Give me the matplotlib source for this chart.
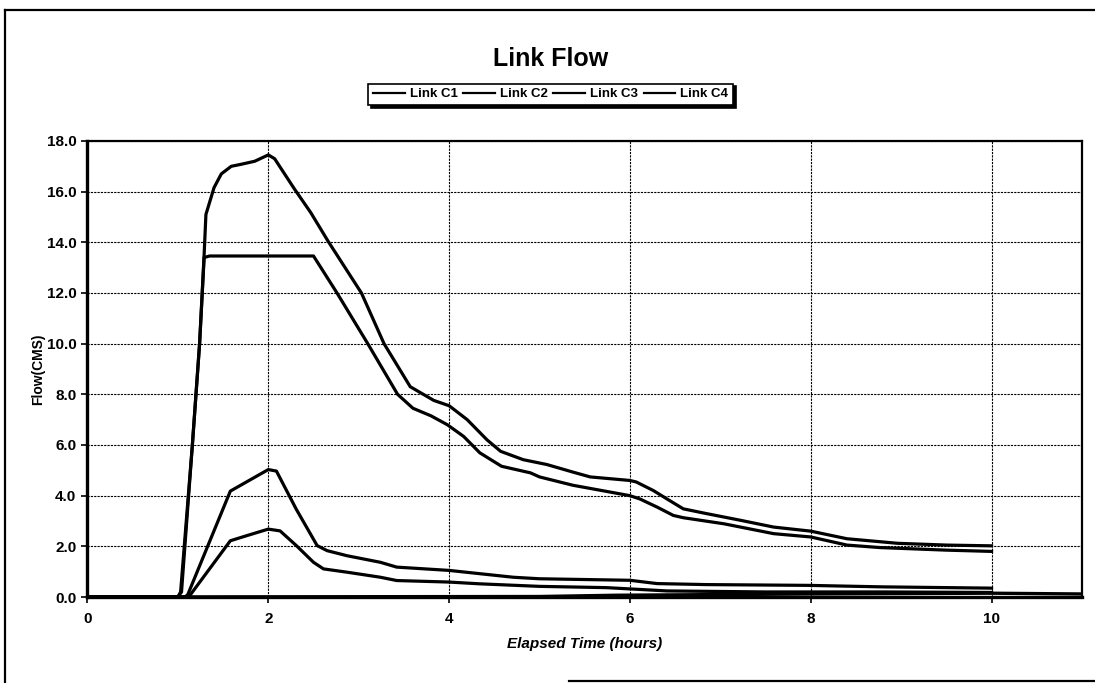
import matplotlib
matplotlib.use("Agg")
import matplotlib.pyplot as plt
from matplotlib.lines import Line2D

# values (time in hours, flow in CMS)
c1_t = [0, 1.0, 1.03, 1.16, 1.24, 1.29, 1.31, 1.40, 1.48, 1.59, 1.70, 1.85, 2.0, 2.07,
        2.29, 2.47, 2.66, 3.03, 3.28, 3.57, 3.83, 4.0, 4.2, 4.42, 4.57, 4.82, 5.08, 5.37,
        5.56, 6.0, 6.07, 6.26, 6.41, 6.59, 6.85, 7.22, 7.59, 8.0, 8.4, 8.96, 9.5, 10.0]
c1_q = [0, 0, 0.2, 6.0, 10.0, 13.5, 15.1, 16.16, 16.7, 17.0, 17.08, 17.2, 17.45, 17.3,
        16.1, 15.17, 14.05, 12.0, 10.0, 8.3, 7.76, 7.55, 7.0, 6.2, 5.75, 5.42, 5.23, 4.93,
        4.74, 4.6, 4.54, 4.2, 3.87, 3.48, 3.29, 3.03, 2.76, 2.6, 2.3, 2.12, 2.05, 2.02]

c2_t = [0, 1.0, 1.04, 1.16, 1.24, 1.29, 1.35, 2.5, 2.76, 3.1, 3.43, 3.6, 3.8, 3.98, 4.16,
        4.34, 4.58, 4.9, 5.0, 5.37, 6.0, 6.11, 6.3, 6.48, 6.59, 7.04, 7.59, 8.0, 8.4, 8.77,
        9.5, 10.0]
c2_q = [0, 0, 0.2, 6.0, 10.0, 13.4, 13.46, 13.46, 12.0, 10.0, 8.0, 7.45, 7.15, 6.8, 6.34,
        5.69, 5.16, 4.9, 4.74, 4.41, 4.0, 3.87, 3.55, 3.22, 3.13, 2.89, 2.5, 2.37, 2.05, 1.95,
        1.85, 1.8]

c3_t = [0, 1.08, 1.11, 1.58, 2.0, 2.09, 2.31, 2.54, 2.65, 2.87, 3.24, 3.42, 4.0, 4.34,
        4.71, 5.0, 6.0, 6.3, 6.85, 7.96, 8.8, 10.0]
c3_q = [0, 0, 0.1, 4.18, 5.03, 4.97, 3.46, 2.03, 1.83, 1.63, 1.37, 1.18, 1.05, 0.92,
        0.78, 0.72, 0.66, 0.53, 0.49, 0.46, 0.4, 0.35]

c4_t = [0, 1.1, 1.13, 1.58, 1.76, 2.0, 2.13, 2.31, 2.5, 2.61, 2.87, 3.24, 3.42, 4.0, 4.34,
        5.0, 5.74, 6.41, 7.5, 8.8, 10.0]
c4_q = [0, 0, 0.05, 2.22, 2.42, 2.68, 2.61, 2.03, 1.37, 1.11, 0.98, 0.78, 0.65, 0.59, 0.52,
        0.42, 0.37, 0.24, 0.2, 0.2, 0.18]

base_t = [0, 5.0, 5.85, 8.0, 10.0, 11.0]
base_q = [0, 0.02, 0.07, 0.12, 0.15, 0.12]

series = [("Link C1", c1_t, c1_q), ("Link C2", c2_t, c2_q),
          ("Link C3", c3_t, c3_q), ("Link C4", c4_t, c4_q)]

y_ticks = [0, 2, 4, 6, 8, 10, 12, 14, 16, 18]
x_ticks = [0, 2, 4, 6, 8, 10]

plt.rcParams["font.family"] = ["Liberation Sans", "DejaVu Sans"]

fig = plt.figure(figsize=(10.95, 6.83), dpi=100)
ax = fig.add_axes([0.0799, 0.1259, 0.9082, 0.6677])

for name, t, q in series:
    ax.plot(t, q, color="black", lw=2.3, label=name, solid_joinstyle="round")
ax.plot(base_t, base_q, color="black", lw=2.4)

ax.set_xlim(0, 11)
ax.set_ylim(0, 18)
ax.set_xticks(x_ticks)
ax.set_yticks(y_ticks)
ax.set_yticklabels([f"{v:.1f}" for v in y_ticks])
ax.tick_params(axis="both", direction="out", length=4, width=1.2, labelsize=11, pad=4)
for lab in ax.get_xticklabels() + ax.get_yticklabels():
    lab.set_fontweight("bold")
ax.tick_params(axis="x", pad=7)

ax.grid(True, color="black", linestyle=(0, (2.0, 1.0)), linewidth=0.8)
ax.set_axisbelow(True)
for side in ["left", "bottom"]:
    ax.spines[side].set_linewidth(2.4)
for side in ["top", "right"]:
    ax.spines[side].set_linewidth(1.6)

ax.set_ylabel("Flow(CMS)", fontsize=10, fontweight="bold", labelpad=1)
ax.set_xlabel("Elapsed Time (hours)", fontsize=11, fontweight="bold", style="italic",
              labelpad=8)

fig.text(0.503, 0.913, "Link Flow", ha="center", va="center", fontsize=18,
         fontweight="bold")

leg = ax.legend(loc="center", bbox_to_anchor=(0.503, 0.862), bbox_transform=fig.transFigure,
                ncol=4, fontsize=9.5, frameon=True, fancybox=False,
                shadow={"color": "black", "alpha": 1.0, "ox": 2, "oy": -2},
                handlelength=2.4, handletextpad=0.4, columnspacing=0.4,
                borderpad=0.35, borderaxespad=0)
leg.get_frame().set_edgecolor("black")
leg.get_frame().set_linewidth(1.2)
for txt in leg.get_texts():
    txt.set_fontweight("bold")
for h in leg.get_lines():
    h.set_linewidth(1.6)

# border of the scanned page
fig.add_artist(Line2D([0.005, 1.0], [0.985, 0.985], color="black", lw=1.6))
fig.add_artist(Line2D([0.005, 0.005], [0.0, 0.985], color="black", lw=1.6))
fig.add_artist(Line2D([0.52, 1.0], [0.003, 0.003], color="black", lw=1.6))

fig.savefig("out.png", dpi=100)
